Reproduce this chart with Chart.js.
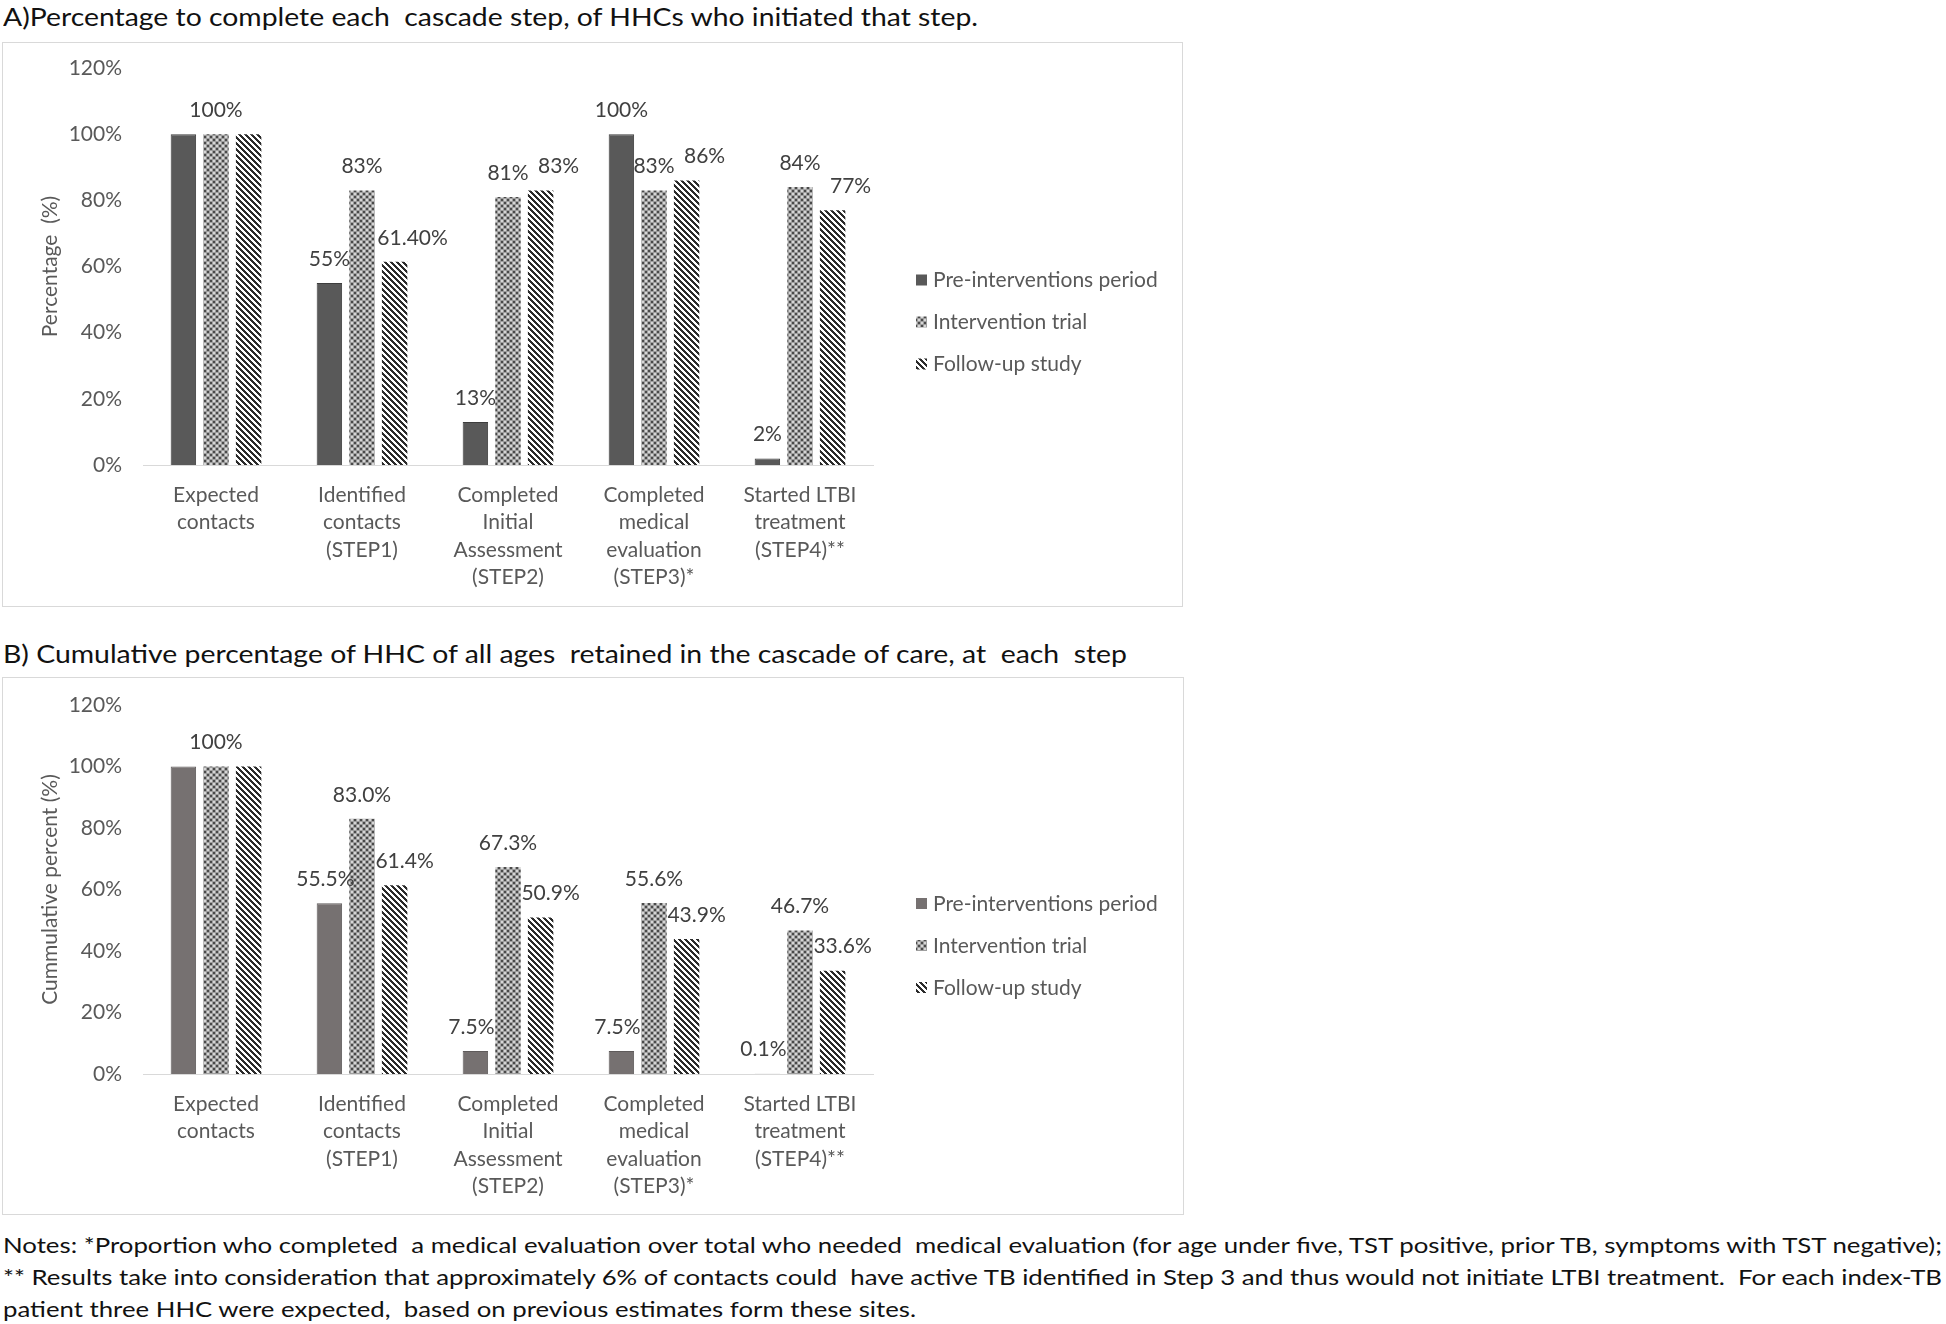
<!DOCTYPE html>
<html lang="en">
<head>
<meta charset="UTF-8">
<title>HHC cascade of care</title>
<script src="https://cdn.jsdelivr.net/npm/chart.js@4.4.0/dist/chart.umd.min.js"></script>
<style>
  html, body { margin: 0; padding: 0; background: #fff; }
  body { width: 1946px; height: 1324px; position: relative; overflow: hidden; font-family: Lato, sans-serif; }
  .title { position: absolute; left: 3px; font-size: 25px; line-height: 30px; color: #111; white-space: pre; transform-origin: 0 50%; }
  .note { position: absolute; left: 3px; font-size: 21px; line-height: 26px; color: #111; white-space: pre; transform-origin: 0 50%; }
  .box { position: absolute; border: 1px solid #d9d9d9; box-sizing: border-box; }
  .box canvas { display: block; }
</style>
</head>
<body>
  <div class="title" style="top:1px" data-w="975">A)Percentage to complete each  cascade step, of HHCs who initiated that step.</div>
  <div class="box" style="left:2px; top:42px; width:1181px; height:565px;"><canvas id="chartA" width="1179" height="563"></canvas></div>

  <div class="title" style="top:638px" data-w="1124">B) Cumulative percentage of HHC of all ages  retained in the cascade of care, at  each  step</div>
  <div class="box" style="left:2px; top:677px; width:1182px; height:538px;"><canvas id="chartB" width="1180" height="536"></canvas></div>

  <div class="note" style="top:1232px" data-w="1939">Notes: *Proportion who completed  a medical evaluation over total who needed  medical evaluation (for age under five, TST positive, prior TB, symptoms with TST negative);</div>
  <div class="note" style="top:1264px" data-w="1939">** Results take into consideration that approximately 6% of contacts could  have active TB identified in Step 3 and thus would not initiate LTBI treatment.  For each index-TB</div>
  <div class="note" style="top:1296px" data-w="913">patient three HHC were expected,  based on previous estimates form these sites.</div>

<script>
  // categories shared by both panels
  const categories = [
    ['Expected', 'contacts'],
    ['Identified', 'contacts', '(STEP1)'],
    ['Completed', 'Initial', 'Assessment', '(STEP2)'],
    ['Completed', 'medical', 'evaluation', '(STEP3)*'],
    ['Started LTBI', 'treatment', '(STEP4)**']
  ];
  const seriesNames = ['Pre-interventions period', 'Intervention trial', 'Follow-up study'];
  const yTickValues = [0, 20, 40, 60, 80, 100, 120];

  // panel A: percentage completing each step
  const preA = [100, 55, 13, 100, 2];
  const trialA = [100, 83, 81, 83, 84];
  const followA = [100, 61.4, 83, 86, 77];
  const preLabelsA = [null, '55%', '13%', '100%', '2%'];
  const trialLabelsA = ['100%', '83%', '81%', '83%', '84%'];
  const followLabelsA = [null, '61.40%', '83%', '86%', '77%'];

  // panel B: cumulative percentage retained
  const preB = [100, 55.5, 7.5, 7.5, 0.1];
  const trialB = [100, 83.0, 67.3, 55.6, 46.7];
  const followB = [100, 61.4, 50.9, 43.9, 33.6];
  const preLabelsB = [null, '55.5%', '7.5%', '7.5%', '0.1%'];
  const trialLabelsB = ['100%', '83.0%', '67.3%', '55.6%', '46.7%'];
  const followLabelsB = [null, '61.4%', '50.9%', '43.9%', '33.6%'];

  const FONT = 'Lato';
  const FONT_SIZE = 21;
  const GREY_TEXT = '#595959';

  function dotPattern() {
    const c = document.createElement('canvas');
    c.width = 6; c.height = 6;
    const g = c.getContext('2d');
    g.fillStyle = '#9e9e9e'; g.fillRect(0, 0, 6, 6);
    g.fillStyle = '#4a4a4a'; g.fillRect(0, 0, 2, 2); g.fillRect(3, 3, 2, 2);
    g.fillStyle = '#d6d6d6'; g.fillRect(3, 0, 2, 2); g.fillRect(0, 3, 2, 2);
    return g.createPattern(c, 'repeat');
  }

  function stripePattern() {
    const c = document.createElement('canvas');
    c.width = 6; c.height = 6;
    const g = c.getContext('2d');
    g.fillStyle = '#ffffff'; g.fillRect(0, 0, 6, 6);
    g.fillStyle = '#2b2b2b';
    for (let y = 0; y < 6; y++) {
      for (let x = 0; x < 6; x++) {
        const d = ((x - y) % 6 + 6) % 6;
        if (d < 3) g.fillRect(x, y, 1, 1);
      }
    }
    return g.createPattern(c, 'repeat');
  }

  // value labels above the bars
  const barLabels = {
    id: 'barLabels',
    afterDatasetsDraw(chart) {
      const ctx = chart.ctx;
      ctx.save();
      ctx.font = FONT_SIZE + 'px ' + FONT;
      ctx.fillStyle = '#404040';
      ctx.textAlign = 'center';
      ctx.textBaseline = 'middle';
      chart.data.datasets.forEach((ds, i) => {
        chart.getDatasetMeta(i).data.forEach((bar, j) => {
          const t = ds.valueLabels[j];
          if (t) ctx.fillText(t, bar.x + ds.labelShift, bar.y - 24);
        });
      });
      ctx.restore();
    }
  };

  // legend to the right of the plot, like the Excel one
  const sideLegend = {
    id: 'sideLegend',
    afterDraw(chart, args, opts) {
      const { ctx, chartArea } = chart;
      const n = chart.data.datasets.length;
      const x = chartArea.right + opts.offsetX;
      const cy = chart.height / 2 + opts.offsetY;
      ctx.save();
      ctx.font = FONT_SIZE + 'px ' + FONT;
      ctx.textBaseline = 'middle';
      chart.data.datasets.forEach((ds, i) => {
        const y = cy + (i - (n - 1) / 2) * opts.rowGap;
        ctx.fillStyle = ds.backgroundColor;
        ctx.fillRect(x, y - 6, 11, 11);
        ctx.fillStyle = GREY_TEXT;
        ctx.fillText(ds.label, x + 17, y);
      });
      ctx.restore();
    }
  };

  function makeChart(id, cfg) {
    const tickFont = { family: FONT, size: FONT_SIZE };
    return new Chart(document.getElementById(id), {
      type: 'bar',
      data: {
        labels: categories,
        datasets: [
          { label: seriesNames[0], data: cfg.pre, backgroundColor: cfg.preColor, borderColor: cfg.preBorder, borderWidth: 1,
            valueLabels: cfg.preLabels, labelShift: cfg.shifts[0] },
          { label: seriesNames[1], data: cfg.trial, backgroundColor: dotPattern(), borderWidth: 0,
            valueLabels: cfg.trialLabels, labelShift: cfg.shifts[1] },
          { label: seriesNames[2], data: cfg.follow, backgroundColor: stripePattern(), borderWidth: 0,
            valueLabels: cfg.followLabels, labelShift: cfg.shifts[2] }
        ]
      },
      options: {
        responsive: false,
        animation: false,
        devicePixelRatio: 1,
        categoryPercentage: 0.67,
        barPercentage: 0.78,
        layout: { padding: cfg.padding },
        plugins: {
          legend: { display: false },
          tooltip: { enabled: false },
          sideLegend: { offsetX: 43, offsetY: cfg.legendDy, rowGap: 42 }
        },
        scales: {
          x: {
            afterFit: s => { s.height = cfg.xHeight; },
            grid: { display: false, drawTicks: false },
            border: { display: true, color: '#d9d9d9', width: 1 },
            ticks: { padding: 16, color: GREY_TEXT, font: { family: FONT, size: FONT_SIZE, lineHeight: 1.31 }, maxRotation: 0, autoSkip: false }
          },
          y: {
            min: 0,
            max: 120,
            afterBuildTicks: s => { s.ticks = yTickValues.map(v => ({ value: v })); },
            afterFit: s => { s.width = 140; s.paddingTop = 0; s.paddingBottom = 0; },
            grid: { display: false, drawTicks: false },
            border: { display: false },
            ticks: { padding: 21, color: GREY_TEXT, font: tickFont, callback: v => v + '%' },
            title: { display: true, text: cfg.yTitle, color: GREY_TEXT, font: tickFont, padding: { top: 35, bottom: 0 } }
          }
        }
      },
      plugins: [barLabels, sideLegend]
    });
  }

  function fitTexts() {
    document.querySelectorAll('[data-w]').forEach(el => {
      const w = el.getBoundingClientRect().width;
      el.style.transform = 'scaleX(' + (parseFloat(el.dataset.w) / w) + ')';
    });
  }

  function draw() {
    fitTexts();
    makeChart('chartA', {
      pre: preA, trial: trialA, follow: followA,
      preLabels: preLabelsA, trialLabels: trialLabelsA, followLabels: followLabelsA,
      preColor: '#595959', preBorder: '#3d3d3d',
      shifts: [0, 0, 18],
      padding: { top: 25, right: 309, bottom: 0, left: 0 },
      xHeight: 141,
      legendDy: -2,
      yTitle: 'Percentage  (%)'
    });
    makeChart('chartB', {
      pre: preB, trial: trialB, follow: followB,
      preLabels: preLabelsB, trialLabels: trialLabelsB, followLabels: followLabelsB,
      preColor: '#767171', preBorder: '#5f5b5b',
      shifts: [-4, 0, 10],
      padding: { top: 27, right: 310, bottom: 0, left: 0 },
      xHeight: 140,
      legendDy: 0,
      yTitle: 'Cummulative percent (%)'
    });
  }

  if (document.fonts && document.fonts.load) {
    document.fonts.load(FONT_SIZE + 'px ' + FONT).then(draw, draw);
  } else {
    draw();
  }
</script>
</body>
</html>
